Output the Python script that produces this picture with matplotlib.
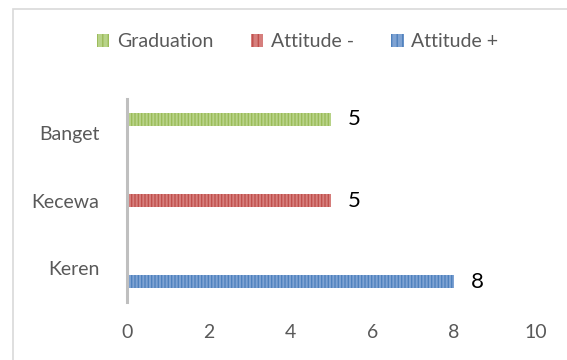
import matplotlib.pyplot as plt
import matplotlib.patches as mpatches
import numpy as np

plt.rcParams['font.family'] = ['Lato', 'DejaVu Sans']
plt.rcParams['hatch.color'] = '#FFFFFF'

# Data
categories = ['Keren', 'Kecewa', 'Banget']
series_names = ['Attitude +', 'Attitude -', 'Graduation']
attitude_plus = [8, 0, 0]
attitude_minus = [0, 5, 0]
graduation = [0, 0, 5]
colors = ['#4F81BD', '#C0504D', '#9BBB59']
light = ['#7FA3D3', '#D67F7D', '#B8D389']

fig = plt.figure(figsize=(5.67, 3.6), dpi=100)
ax = fig.add_axes([0.224, 0.161, 0.721, 0.564])

y = np.arange(len(categories))
h = 0.2
offsets = [-h, 0, h]
all_vals = [attitude_plus, attitude_minus, graduation]

for vals, off, c, lc, name in zip(all_vals, offsets, colors, light, series_names):
    bars = ax.barh(y + off, vals, height=h * 0.95, color=lc, edgecolor=c,
                   hatch='|||||', linewidth=0, label=name)
    for b, v in zip(bars, vals):
        if v > 0:
            ax.text(v + 0.4, b.get_y() + b.get_height() / 2, str(v),
                    va='center', ha='left', fontsize=16, color='black')

ax.set_xlim(0, 10)
ax.set_ylim(-0.5, 2.5)
ax.set_xticks([0, 2, 4, 6, 8, 10])
ax.set_yticks(y)
ax.set_yticklabels(categories)
ax.tick_params(axis='both', length=0, labelsize=14, colors='#595959')
ax.tick_params(axis='x', pad=16)
ax.tick_params(axis='y', pad=20)
for s in ['top', 'right', 'bottom']:
    ax.spines[s].set_visible(False)
ax.spines['left'].set_color('#BFBFBF')
ax.spines['left'].set_linewidth(2.2)

# Legend (reverse order as in the original)
leg_handles = [mpatches.Patch(facecolor=lc, edgecolor=c, hatch='|||', linewidth=0)
               for c, lc in zip(colors, light)]
fig.legend(leg_handles[::-1], series_names[::-1], loc='center', ncol=3,
           bbox_to_anchor=(0.525, 0.885), frameon=False, fontsize=14,
           handlelength=0.65, handleheight=0.65, columnspacing=1.9,
           handletextpad=0.4, labelcolor='#595959')

# Light outer border
border = mpatches.Rectangle((12.5 / 567, -0.1), 1.0, 1 - 8.5 / 360 + 0.1,
                            transform=fig.transFigure, fill=False,
                            edgecolor='#D9D9D9', linewidth=1.2)
fig.patches.append(border)

fig.savefig('out.png', dpi=100)
